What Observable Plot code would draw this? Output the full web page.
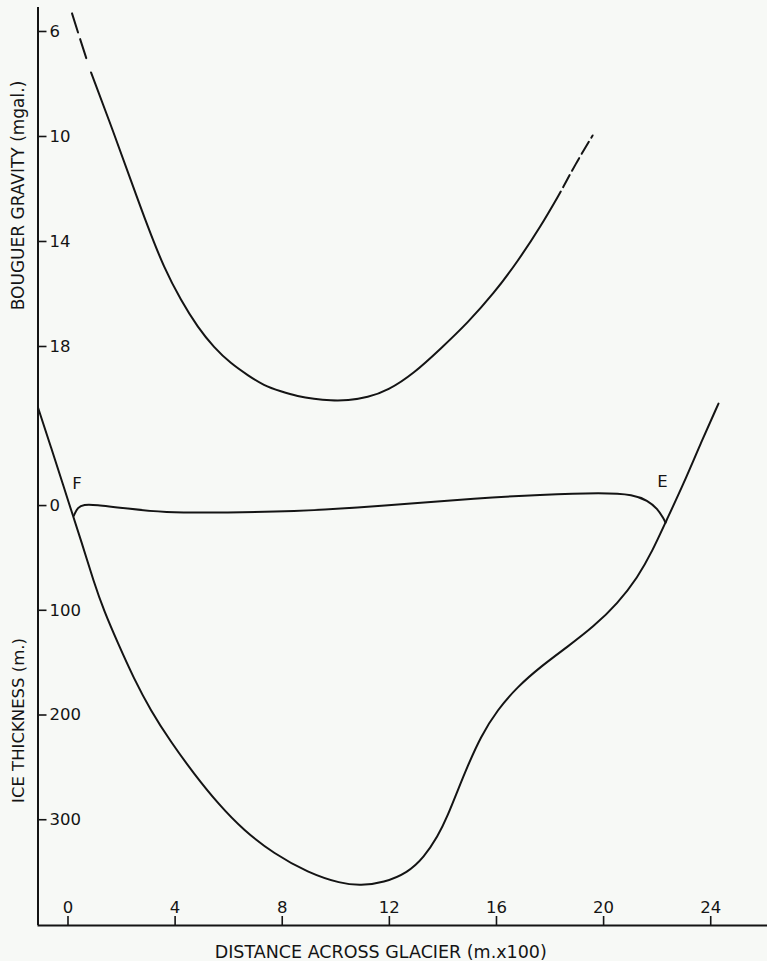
<!DOCTYPE html>
<html>
<head>
<meta charset="utf-8">
<script src="https://cdn.jsdelivr.net/npm/d3@7"></script>
<script src="https://cdn.jsdelivr.net/npm/@observablehq/plot@0.6"></script>
<style>
  html, body { margin: 0; padding: 0; background: #f7f9f6; }
  #chart { width: 767px; height: 961px; }
</style>
</head>
<body>
<div id="chart"></div>
<script>
// ---- tick labels ----
const distanceTicks = [0, 4, 8, 12, 16, 20, 24];        // m x 100
const gravityTicks = [6, 10, 14, 18];                    // mgal
const thicknessTicks = [0, 100, 200, 300];               // m

// ---- Bouguer gravity curve (distance in m x100, gravity in mgal) ----
const gravityDashedLeftX = [0.15, 0.45, 0.75];
const gravityDashedLeftG = [5.31, 6.28, 7.23];
const gravitySolidX = [0.86, 1.72, 2.35, 2.99, 3.58, 4.22, 4.85, 5.45, 6.08, 6.72, 7.31, 7.95, 8.58, 9.18, 9.81, 10.45, 11.19, 11.94, 12.91, 13.92, 14.93, 15.90, 16.79, 17.65, 18.40];
const gravitySolidG = [7.56, 9.89, 11.68, 13.47, 14.99, 16.25, 17.28, 18.04, 18.65, 19.10, 19.49, 19.71, 19.90, 20.00, 20.06, 20.06, 19.94, 19.68, 19.03, 18.08, 17.09, 15.98, 14.76, 13.43, 12.10];
const gravityDashedRightX = [18.40, 18.95, 19.59];
const gravityDashedRightG = [12.10, 11.05, 9.96];

// ---- glacier bed profile (ice thickness in m, positive downward) ----
const bedX = [-1.12, -0.63, -0.15, 0.11, 0.49, 0.97, 1.34, 1.87, 2.46, 3.09, 3.83, 4.70, 5.60, 6.57, 7.69, 8.96, 10.19, 10.93, 11.79, 12.69, 13.28, 13.81, 14.18, 14.55, 14.93, 15.41, 16.04, 16.79, 17.65, 18.66, 19.63, 20.52, 21.27, 21.83, 22.31, 22.99, 23.62, 24.29];
const bedT = [-93.6, -55.4, -17.2, 3.8, 33.4, 73.5, 100.3, 131.8, 165.2, 195.8, 225.4, 256.0, 284.6, 310.4, 332.4, 350.5, 361.0, 362.9, 360.1, 350.5, 336.2, 316.1, 296.1, 272.2, 248.3, 220.6, 194.8, 172.9, 153.8, 134.7, 115.6, 93.6, 68.8, 43.0, 16.2, -21.0, -59.2, -97.4];

// ---- glacier surface F -> E ----
const surfaceX = [0.22, 0.36, 0.60, 0.97, 2.24, 3.47, 5.97, 8.43, 10.93, 12.69, 15.15, 17.65, 20.0, 21.12, 21.64, 22.01, 22.24, 22.31];
const surfaceT = [9.6, 1.5, -1.0, -1.0, 2.9, 6.7, 6.7, 5.7, 1.9, -1.9, -6.7, -10.5, -12.4, -10.5, -4.8, 2.9, 12.5, 16.2];

// ---- point labels ----
const pointLabels = ["F", "E"];
const pointLabelX = [0.34, 22.2];
const pointLabelT = [-21, -23];

// ---- axis titles ----
const xTitle = "DISTANCE ACROSS GLACIER (m.x100)";
const gravityTitle = "BOUGUER GRAVITY (mgal.)";
const thicknessTitle = "ICE THICKNESS (m.)";

// scale setup
const xDomain = [-1.12, 26.12];
const yDomain = [401, -475.6];   // ice thickness (m): bottom -> top
// secondary (gravity) axis calibration onto the thickness scale
const gToT = d3.scaleLinear().domain([6, 18]).range([-452.7, -151.9]);

const zipXY = (xs, ys, f = (v) => v) => xs.map((x, i) => ({x, y: f(ys[i])}));
const gravDashL = zipXY(gravityDashedLeftX, gravityDashedLeftG, gToT);
const gravSolid = zipXY(gravitySolidX, gravitySolidG, gToT);
const gravDashR = zipXY(gravityDashedRightX, gravityDashedRightG, gToT);
const bed = zipXY(bedX, bedT);
const surface = zipXY(surfaceX, surfaceT);
const labels = pointLabels.map((t, i) => ({t, x: pointLabelX[i], y: pointLabelT[i]}));

const ink = "#141414";

const chart = Plot.plot({
  width: 767,
  height: 961,
  marginLeft: 37.5,
  marginRight: 0,
  marginTop: 7,
  marginBottom: 36,
  x: {domain: xDomain, axis: null},
  y: {domain: yDomain, axis: null},
  style: {background: "transparent", fontFamily: "'DejaVu Sans', sans-serif", color: ink},
  marks: [
    // axis lines
    Plot.ruleX([xDomain[0]], {stroke: ink, strokeWidth: 2}),
    Plot.ruleY([yDomain[0]], {stroke: ink, strokeWidth: 2}),
    // x axis (ticks inside, labels above)
    Plot.axisX(distanceTicks, {anchor: "bottom", tickSize: 9, dy: -9, tickPadding: -18, lineAnchor: "middle", fontSize: 16.5, strokeWidth: 1.6, label: null, tickFormat: d3.format("d")}),
    // thickness axis
    Plot.axisY(thicknessTicks, {anchor: "left", tickSize: 9, dx: 9, tickPadding: -11.5, textAnchor: "start", fontSize: 16.5, strokeWidth: 1.6, label: null, tickFormat: d3.format("d")}),
    // gravity axis
    Plot.axisY(gravityTicks.map(gToT), {anchor: "left", tickSize: 9, dx: 9, tickPadding: -11.5, textAnchor: "start", fontSize: 16.5, strokeWidth: 1.6, label: null, tickFormat: (t) => String(Math.round(gToT.invert(t)))}),
    // axis titles
    Plot.text([gravityTitle], {frameAnchor: "left", textAnchor: "middle", lineAnchor: "middle", rotate: -90, dx: -19, dy: -271, fontSize: 17, fill: ink}),
    Plot.text([thicknessTitle], {frameAnchor: "left", textAnchor: "middle", lineAnchor: "middle", rotate: -90, dx: -19, dy: 254, fontSize: 16.5, fill: ink}),
    Plot.text([xTitle], {frameAnchor: "bottom", textAnchor: "middle", lineAnchor: "middle", dx: -22, dy: 27, fontSize: 17.5, fill: ink}),
    // gravity curve
    Plot.line(gravDashL, {x: "x", y: "y", stroke: ink, strokeWidth: 2, strokeDasharray: "20,7", curve: "linear"}),
    Plot.line(gravSolid, {x: "x", y: "y", stroke: ink, strokeWidth: 2, curve: "basis"}),
    Plot.line(gravDashR, {x: "x", y: "y", stroke: ink, strokeWidth: 2, strokeDasharray: "14,5", strokeDashoffset: 14, curve: "basis"}),
    // glacier cross-section
    Plot.line(bed, {x: "x", y: "y", stroke: ink, strokeWidth: 2, curve: "basis"}),
    Plot.line(surface, {x: "x", y: "y", stroke: ink, strokeWidth: 2, curve: "basis"}),
    // F / E labels
    Plot.text(labels, {x: "x", y: "y", text: "t", fontSize: 16.5, fill: ink})
  ]
});

document.getElementById("chart").append(chart);
</script>
</body>
</html>
